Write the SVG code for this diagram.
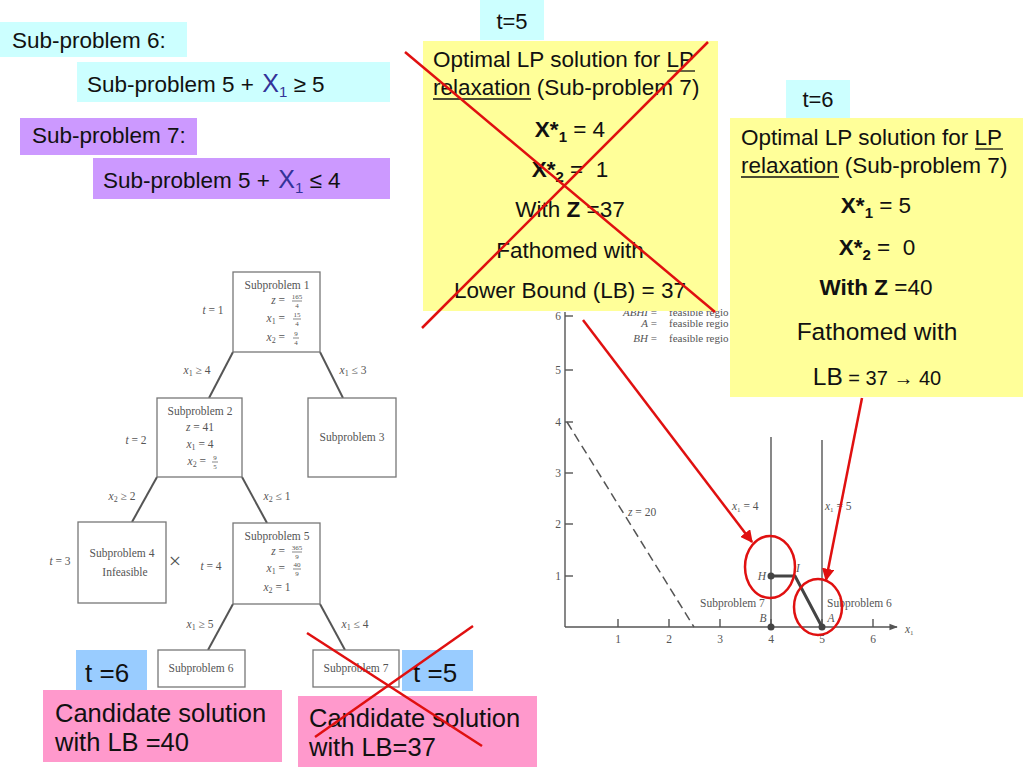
<svg xmlns="http://www.w3.org/2000/svg" width="1024" height="768" viewBox="0 0 1024 768">
<defs>
<style>
.sans{font-family:"Liberation Sans",Arial,sans-serif;fill:#111}
.t22{font-size:22.5px}
.b{font-weight:bold}
.ser{font-family:"Liberation Serif","Times New Roman",serif;fill:#555;font-size:11.5px}
.it{font-style:italic}
.fr{font-size:7px}
.box{fill:#fff;stroke:#777;stroke-width:1.3}
.edge{stroke:#555;stroke-width:2;fill:none}
.gl{stroke:#555;stroke-width:1.4;fill:none}
.red{stroke:#e01010;stroke-width:2.5;fill:none}
.cyan{fill:#ccffff}
.purp{fill:#cc99ff}
.yel{fill:#ffff99}
.pink{fill:#ff99cc}
.blue{fill:#99ccff}
.x1{fill:#333399;font-size:25px}
.ul{stroke:#111;stroke-width:1.3}
</style>
<marker id="ah" viewBox="0 0 10 10" refX="9" refY="5" markerWidth="5" markerHeight="5" orient="auto-start-reverse" markerUnits="strokeWidth">
<path d="M0,0 L10,5 L0,10 z" fill="#e01010"/>
</marker>
<marker id="axh" viewBox="0 0 10 10" refX="9" refY="5" markerWidth="6" markerHeight="6" orient="auto" markerUnits="strokeWidth">
<path d="M0,1 L10,5 L0,9 z" fill="#555"/>
</marker>
</defs>
<rect width="1024" height="768" fill="#fff"/>

<!-- Top-left definitions -->
<g id="sp6-label">
<rect class="cyan" x="0" y="22" width="187" height="35"/>
<text class="sans t22" x="12" y="48">Sub-problem 6:</text>
</g>
<g id="sp6-def">
<rect class="cyan" x="77" y="62" width="313" height="40"/>
<text class="sans t22" x="87" y="92">Sub-problem 5 + <tspan class="x1" dx="2">X</tspan><tspan fill="#333399" font-size="15" dy="5">1</tspan><tspan dy="-5"> ≥ 5</tspan></text>
</g>
<g id="sp7-label">
<rect class="purp" x="20" y="118" width="177" height="37"/>
<text class="sans t22" x="32" y="143">Sub-problem 7:</text>
</g>
<g id="sp7-def">
<rect class="purp" x="93" y="158" width="297" height="41"/>
<text class="sans t22" x="103" y="188">Sub-problem 5 + <tspan class="x1" dx="2">X</tspan><tspan fill="#333399" font-size="15" dy="5">1</tspan><tspan dy="-5"> ≤ 4</tspan></text>
</g>

<!-- Tree edges -->
<g id="tree-edges">
<line class="edge" x1="233" y1="352" x2="209" y2="398"/>
<line class="edge" x1="320" y1="352" x2="343" y2="398"/>
<line class="edge" x1="157" y1="477" x2="132" y2="522"/>
<line class="edge" x1="242" y1="477" x2="267" y2="523"/>
<line class="edge" x1="233" y1="604" x2="208" y2="650"/>
<line class="edge" x1="320" y1="604" x2="345" y2="650"/>
<text class="ser" x="197" y="374" text-anchor="middle"><tspan class="it">x</tspan><tspan font-size="8" dy="2">1</tspan><tspan dy="-2"> ≥ 4</tspan></text>
<text class="ser" x="353" y="374" text-anchor="middle"><tspan class="it">x</tspan><tspan font-size="8" dy="2">1</tspan><tspan dy="-2"> ≤ 3</tspan></text>
<text class="ser" x="122" y="500" text-anchor="middle"><tspan class="it">x</tspan><tspan font-size="8" dy="2">2</tspan><tspan dy="-2"> ≥ 2</tspan></text>
<text class="ser" x="277" y="500" text-anchor="middle"><tspan class="it">x</tspan><tspan font-size="8" dy="2">2</tspan><tspan dy="-2"> ≤ 1</tspan></text>
<text class="ser" x="200" y="628" text-anchor="middle"><tspan class="it">x</tspan><tspan font-size="8" dy="2">1</tspan><tspan dy="-2"> ≥ 5</tspan></text>
<text class="ser" x="355" y="628" text-anchor="middle"><tspan class="it">x</tspan><tspan font-size="8" dy="2">1</tspan><tspan dy="-2"> ≤ 4</tspan></text>
</g>

<!-- Tree nodes -->
<g id="subproblem1">
<rect class="box" x="233" y="272" width="87" height="80"/>
<text class="ser" x="277" y="289" text-anchor="middle">Subproblem 1</text>
<text class="ser" x="285" y="304" text-anchor="end"><tspan class="it">z</tspan> =</text>
<text class="ser fr" x="297" y="299" text-anchor="middle">165</text>
<line x1="292" y1="301" x2="302" y2="301" stroke="#555" stroke-width="0.7"/>
<text class="ser fr" x="297" y="308" text-anchor="middle">4</text>
<text class="ser" x="285" y="322" text-anchor="end"><tspan class="it">x</tspan><tspan font-size="8" dy="2">1</tspan><tspan dy="-2"> =</tspan></text>
<text class="ser fr" x="297" y="317" text-anchor="middle">15</text>
<line x1="293" y1="319" x2="301" y2="319" stroke="#555" stroke-width="0.7"/>
<text class="ser fr" x="297" y="326" text-anchor="middle">4</text>
<text class="ser" x="285" y="341" text-anchor="end"><tspan class="it">x</tspan><tspan font-size="8" dy="2">2</tspan><tspan dy="-2"> =</tspan></text>
<text class="ser fr" x="296" y="336" text-anchor="middle">9</text>
<line x1="293" y1="338" x2="299" y2="338" stroke="#555" stroke-width="0.7"/>
<text class="ser fr" x="296" y="345" text-anchor="middle">4</text>
<text class="ser" x="213" y="314" text-anchor="middle"><tspan class="it">t</tspan> = 1</text>
</g>
<g id="subproblem2">
<rect class="box" x="157" y="398" width="85" height="79"/>
<text class="ser" x="200" y="415" text-anchor="middle">Subproblem 2</text>
<text class="ser" x="200" y="431" text-anchor="middle"><tspan class="it">z</tspan> = 41</text>
<text class="ser" x="200" y="448" text-anchor="middle"><tspan class="it">x</tspan><tspan font-size="8" dy="2">1</tspan><tspan dy="-2"> = 4</tspan></text>
<text class="ser" x="206" y="465" text-anchor="end"><tspan class="it">x</tspan><tspan font-size="8" dy="2">2</tspan><tspan dy="-2"> =</tspan></text>
<text class="ser fr" x="215" y="460" text-anchor="middle">9</text>
<line x1="212" y1="462" x2="218" y2="462" stroke="#555" stroke-width="0.7"/>
<text class="ser fr" x="215" y="469" text-anchor="middle">5</text>
<text class="ser" x="136" y="444" text-anchor="middle"><tspan class="it">t</tspan> = 2</text>
</g>
<g id="subproblem3">
<rect class="box" x="308" y="398" width="88" height="79"/>
<text class="ser" x="352" y="441" text-anchor="middle">Subproblem 3</text>
</g>
<g id="subproblem4">
<rect class="box" x="78" y="522" width="88" height="81"/>
<text class="ser" x="122" y="557" text-anchor="middle">Subproblem 4</text>
<text class="ser" x="125" y="576" text-anchor="middle">Infeasible</text>
<text class="ser" x="175" y="568" text-anchor="middle" style="font-size:22px">×</text>
<text class="ser" x="60" y="565" text-anchor="middle"><tspan class="it">t</tspan> = 3</text>
</g>
<g id="subproblem5">
<rect class="box" x="233" y="523" width="87" height="81"/>
<text class="ser" x="277" y="540" text-anchor="middle">Subproblem 5</text>
<text class="ser" x="285" y="555" text-anchor="end"><tspan class="it">z</tspan> =</text>
<text class="ser fr" x="297" y="550" text-anchor="middle">365</text>
<line x1="292" y1="552" x2="302" y2="552" stroke="#555" stroke-width="0.7"/>
<text class="ser fr" x="297" y="559" text-anchor="middle">9</text>
<text class="ser" x="285" y="572" text-anchor="end"><tspan class="it">x</tspan><tspan font-size="8" dy="2">1</tspan><tspan dy="-2"> =</tspan></text>
<text class="ser fr" x="297" y="567" text-anchor="middle">40</text>
<line x1="293" y1="569" x2="301" y2="569" stroke="#555" stroke-width="0.7"/>
<text class="ser fr" x="297" y="576" text-anchor="middle">9</text>
<text class="ser" x="277" y="591" text-anchor="middle"><tspan class="it">x</tspan><tspan font-size="8" dy="2">2</tspan><tspan dy="-2"> = 1</tspan></text>
<text class="ser" x="211" y="570" text-anchor="middle"><tspan class="it">t</tspan> = 4</text>
</g>
<g id="subproblem6">
<rect class="box" x="158" y="650" width="87" height="37"/>
<text class="ser" x="201" y="672" text-anchor="middle">Subproblem 6</text>
</g>
<g id="subproblem7">
<rect class="box" x="313" y="650" width="86" height="37"/>
<text class="ser" x="356" y="672" text-anchor="middle">Subproblem 7</text>
</g>

<!-- Graph -->
<g id="graph">
<line class="gl" x1="565" y1="312" x2="565" y2="627"/>
<line class="gl" x1="565" y1="627" x2="897" y2="627" marker-end="url(#axh)"/>
<g class="gl">
<line x1="565" y1="316" x2="573" y2="316"/>
<line x1="565" y1="370" x2="573" y2="370"/>
<line x1="565" y1="422" x2="573" y2="422"/>
<line x1="565" y1="473" x2="573" y2="473"/>
<line x1="565" y1="524" x2="573" y2="524"/>
<line x1="565" y1="576" x2="573" y2="576"/>
<line x1="618" y1="627" x2="618" y2="619"/>
<line x1="669" y1="627" x2="669" y2="619"/>
<line x1="720" y1="627" x2="720" y2="619"/>
<line x1="771" y1="627" x2="771" y2="619"/>
<line x1="822" y1="627" x2="822" y2="619"/>
<line x1="873" y1="627" x2="873" y2="619"/>
</g>
<g text-anchor="middle">
<text class="ser" x="558" y="320">6</text>
<text class="ser" x="558" y="374">5</text>
<text class="ser" x="558" y="426">4</text>
<text class="ser" x="558" y="477">3</text>
<text class="ser" x="558" y="528">2</text>
<text class="ser" x="558" y="580">1</text>
<text class="ser" x="618" y="643">1</text>
<text class="ser" x="669" y="643">2</text>
<text class="ser" x="720" y="643">3</text>
<text class="ser" x="771" y="643">4</text>
<text class="ser" x="822" y="643">5</text>
<text class="ser" x="873" y="643">6</text>
</g>
<text class="ser it" x="905" y="633">x<tspan font-size="7" dy="2" font-style="normal">1</tspan></text>
<line x1="567" y1="422" x2="694" y2="627" stroke="#555" stroke-width="1.5" stroke-dasharray="9,5"/>
<text class="ser" x="628" y="516"><tspan class="it">z</tspan> = 20</text>
<line class="gl" x1="771" y1="437" x2="771" y2="627"/>
<line class="gl" x1="822" y1="440" x2="822" y2="627"/>
<text class="ser" x="732" y="510"><tspan class="it">x</tspan><tspan font-size="7" dy="2">1</tspan><tspan dy="-2"> = 4</tspan></text>
<text class="ser" x="825" y="510"><tspan class="it">x</tspan><tspan font-size="7" dy="2">1</tspan><tspan dy="-2"> = 5</tspan></text>
<polyline points="771,576 795,576 822,627" fill="none" stroke="#444" stroke-width="3"/>
<circle cx="771" cy="576" r="3.5" fill="#444"/>
<circle cx="771" cy="627" r="3.5" fill="#444"/>
<circle cx="822" cy="627" r="3.5" fill="#444"/>
<text class="ser it" x="762" y="580" text-anchor="middle">H</text>
<text class="ser it" x="798" y="572" text-anchor="middle">I</text>
<text class="ser it" x="763" y="622" text-anchor="middle">B</text>
<text class="ser it" x="831" y="622" text-anchor="middle">A</text>
<text class="ser" x="700" y="607">Subproblem 7</text>
<text class="ser" x="827" y="607">Subproblem 6</text>
<text class="ser" x="657" y="316" text-anchor="end" style="font-size:11px"><tspan class="it">ABHI</tspan> =</text>
<text class="ser" x="669" y="316" style="font-size:11px">feasible regio</text>
<text class="ser" x="657" y="327" text-anchor="end" style="font-size:11px"><tspan class="it">A</tspan> =</text>
<text class="ser" x="669" y="327" style="font-size:11px">feasible regio</text>
<text class="ser" x="657" y="342" text-anchor="end" style="font-size:11px"><tspan class="it">BH</tspan> =</text>
<text class="ser" x="669" y="342" style="font-size:11px">feasible regio</text>
</g>

<!-- t=5 callout -->
<g id="t5-callout">
<rect class="cyan" x="480" y="0" width="64" height="40"/>
<text class="sans" x="512" y="29" font-size="22" text-anchor="middle">t=5</text>
<rect class="yel" x="423" y="41" width="295" height="270"/>
<text class="sans t22" x="433" y="67">Optimal LP solution for LP</text>
<line class="ul" x1="667" y1="71" x2="695" y2="71"/>
<text class="sans t22" x="433" y="95">relaxation (Sub-problem 7)</text>
<line class="ul" x1="433" y1="99" x2="531" y2="99"/>
<text class="sans t22" x="570" y="137" text-anchor="middle"><tspan class="b">X*</tspan><tspan class="b" font-size="15" dy="5">1</tspan><tspan dy="-5"> = 4</tspan></text>
<text class="sans t22" x="570" y="177" text-anchor="middle" xml:space="preserve"><tspan class="b">X*</tspan><tspan class="b" font-size="15" dy="5">2</tspan><tspan dy="-5"> =  1</tspan></text>
<text class="sans t22" x="570" y="217" text-anchor="middle">With <tspan class="b">Z</tspan> =37</text>
<text class="sans t22" x="570" y="258" text-anchor="middle">Fathomed with</text>
<text class="sans t22" x="570" y="298" text-anchor="middle">Lower Bound (LB) = 37</text>
</g>

<!-- t=6 callout -->
<g id="t6-callout">
<rect class="cyan" x="786" y="80" width="64" height="38"/>
<text class="sans" x="818" y="107" font-size="22" text-anchor="middle">t=6</text>
<rect class="yel" x="730" y="118" width="293" height="279"/>
<text class="sans t22" x="741" y="145">Optimal LP solution for LP</text>
<line class="ul" x1="975" y1="149" x2="1003" y2="149"/>
<text class="sans t22" x="741" y="173">relaxation (Sub-problem 7)</text>
<line class="ul" x1="741" y1="177" x2="839" y2="177"/>
<text class="sans t22" x="876" y="213" text-anchor="middle"><tspan class="b">X*</tspan><tspan class="b" font-size="15" dy="5">1</tspan><tspan dy="-5"> = 5</tspan></text>
<text class="sans t22" x="877" y="255" text-anchor="middle" xml:space="preserve"><tspan class="b">X*</tspan><tspan class="b" font-size="15" dy="5">2</tspan><tspan dy="-5"> =  0</tspan></text>
<text class="sans t22" x="876" y="295" text-anchor="middle"><tspan class="b">With Z</tspan> =40</text>
<text class="sans" x="877" y="340" text-anchor="middle" font-size="24.5">Fathomed with</text>
<text class="sans" x="877" y="385" text-anchor="middle" font-size="20"><tspan font-size="24.5">LB</tspan> = 37 → 40</text>
</g>

<!-- Bottom candidates -->
<g id="t6-candidate">
<rect class="blue" x="76" y="650" width="71" height="40"/>
<text class="sans" x="85" y="682" font-size="26">t =6</text>
<rect class="pink" x="43" y="690" width="239" height="72"/>
<text class="sans" x="55" y="722" font-size="25.5">Candidate solution</text>
<text class="sans" x="55" y="751" font-size="25.5">with LB =40</text>
</g>
<g id="t5-candidate">
<rect class="blue" x="402" y="650" width="71" height="41"/>
<text class="sans" x="413" y="682" font-size="26">t =5</text>
<rect class="pink" x="298" y="696" width="239" height="71"/>
<text class="sans" x="309" y="727" font-size="25.5">Candidate solution</text>
<text class="sans" x="309" y="756" font-size="25.5">with LB=37</text>
</g>

<!-- Red annotations -->
<g id="connectors">
<line class="red" x1="583" y1="320" x2="752" y2="542" marker-end="url(#ah)"/>
<line class="red" x1="862" y1="398" x2="826" y2="580" marker-end="url(#ah)"/>
</g>
<g id="highlights">
<ellipse class="red" cx="770" cy="567" rx="25" ry="31"/>
<ellipse class="red" cx="818" cy="607" rx="24" ry="28"/>
</g>
<g id="cross-outs">
<line class="red" x1="405" y1="52" x2="715" y2="312"/>
<line class="red" x1="708" y1="42" x2="422" y2="328"/>
<line class="red" x1="307" y1="633" x2="482" y2="746"/>
<line class="red" x1="473" y1="626" x2="315" y2="737"/>
</g>
</svg>
